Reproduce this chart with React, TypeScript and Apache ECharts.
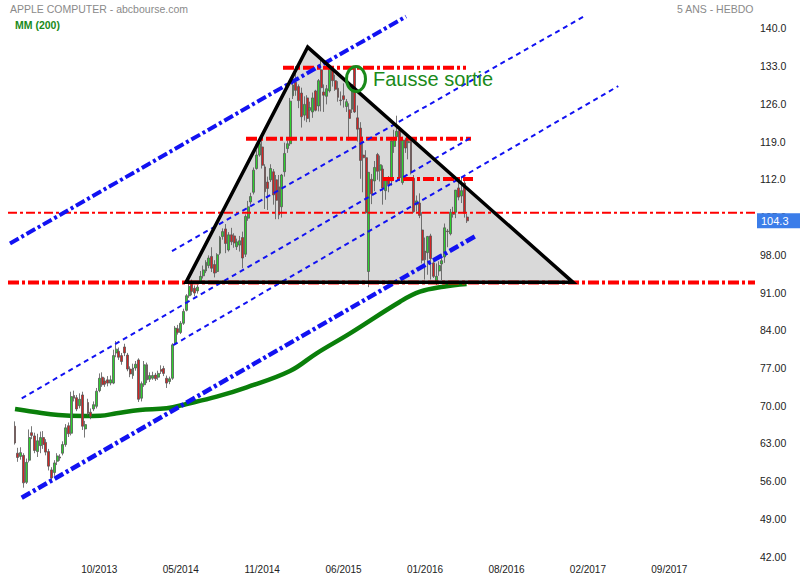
import React, { useEffect, useRef } from 'react';
import * as echarts from 'echarts';

const FONT = '"Liberation Sans", Arial, sans-serif';

// ---- time axis (weekly) ----
const firstCandleUTC = Date.UTC(2013, 2, 25);
const padWeeks = 2;
const totalWeeks = 266;
const xTickLabels = ['10/2013', '05/2014', '11/2014', '06/2015', '01/2016', '08/2016', '02/2017', '09/2017'];
const xTickFirst = 32;
const xTickStep = 29;

// ---- weekly candles: [open, close, low, high] ----
const candles: number[][] = [
  [66.2, 63.1, 62.8, 67.1], [61.2, 60.4, 59.6, 62.2], [60.6, 61.3, 60.0, 62.3], [60.8, 55.7, 54.8, 61.2],
  [55.8, 59.5, 55.5, 60.2], [59.9, 64.1, 59.5, 65.6], [65.0, 64.5, 63.8, 66.2], [64.4, 61.7, 61.2, 65.0],
  [61.5, 63.5, 60.5, 64.8], [62.6, 64.1, 61.2, 65.2], [64.1, 62.8, 62.0, 65.3], [63.2, 61.4, 60.8, 63.8],
  [61.5, 58.8, 58.0, 62.0], [58.1, 56.6, 56.0, 58.6], [57.6, 59.4, 57.0, 59.9], [59.7, 60.7, 59.0, 61.2],
  [60.5, 60.3, 59.8, 61.0], [61.2, 62.8, 60.8, 63.4], [62.8, 65.9, 62.4, 66.6], [66.3, 64.8, 64.2, 66.9],
  [64.9, 71.7, 64.5, 72.6], [71.9, 71.4, 70.8, 72.8], [71.5, 69.4, 69.0, 72.0], [70.0, 71.2, 69.5, 72.3],
  [72.0, 66.2, 65.5, 72.6], [65.7, 66.5, 64.1, 67.2], [70.6, 68.6, 68.2, 71.3], [68.8, 68.0, 67.5, 69.5],
  [69.4, 70.2, 69.0, 70.8], [69.9, 72.7, 69.5, 73.3], [72.8, 75.1, 72.5, 76.0], [75.3, 73.9, 73.5, 76.2],
  [74.6, 74.0, 73.5, 75.2], [74.8, 74.2, 73.6, 75.5], [74.2, 74.8, 73.8, 75.6], [74.2, 79.3, 74.0, 80.4],
  [79.8, 80.5, 79.0, 82.0], [80.1, 79.0, 78.5, 80.8], [79.3, 78.2, 77.6, 79.8], [80.9, 79.8, 79.2, 81.5],
  [79.4, 76.8, 76.4, 79.8], [76.8, 75.9, 75.3, 77.3], [75.6, 77.0, 75.0, 77.8], [77.0, 77.7, 76.5, 78.3],
  [78.5, 71.2, 70.7, 78.8], [71.4, 74.1, 70.8, 74.5], [73.9, 77.6, 73.5, 78.3], [77.6, 74.8, 74.2, 78.0],
  [74.9, 75.6, 74.4, 76.2], [75.1, 75.6, 74.8, 76.3], [75.7, 75.0, 74.6, 76.1], [75.3, 76.0, 74.8, 76.5],
  [76.7, 76.4, 75.9, 77.5], [76.9, 76.0, 75.5, 77.4], [75.1, 74.2, 73.3, 75.6], [74.5, 75.0, 74.0, 75.4],
  [75.1, 81.3, 74.8, 81.6], [81.6, 84.4, 81.3, 84.8], [84.3, 83.6, 83.2, 85.0], [83.6, 85.3, 83.3, 85.7],
  [85.3, 87.5, 85.0, 88.0], [87.7, 90.4, 87.5, 90.7], [90.4, 92.1, 90.0, 92.6], [92.6, 91.2, 90.5, 93.4],
  [91.8, 90.9, 90.3, 92.3], [91.3, 92.0, 90.8, 92.5], [93.0, 94.0, 92.6, 95.0], [94.1, 95.2, 93.6, 96.0],
  [95.0, 96.6, 94.6, 97.0], [96.0, 97.4, 95.5, 97.9], [97.7, 95.5, 94.8, 99.4], [96.2, 94.6, 93.8, 97.0],
  [94.9, 98.0, 94.6, 98.3], [98.3, 101.2, 98.0, 101.5], [101.4, 102.3, 100.8, 102.9], [102.8, 100.1, 98.3, 103.7],
  [98.9, 101.7, 98.6, 102.2], [101.7, 100.4, 99.8, 103.0], [101.5, 100.2, 99.3, 102.0], [99.5, 100.4, 98.9, 101.0],
  [99.8, 100.6, 98.6, 101.5], [101.2, 97.4, 95.5, 102.3], [98.1, 105.1, 97.6, 105.5], [104.8, 106.9, 104.3, 108.0],
  [107.8, 108.8, 107.3, 109.5], [109.6, 113.7, 109.2, 114.2], [114.0, 116.5, 113.8, 117.4], [116.5, 118.6, 116.2, 119.8],
  [118.0, 114.6, 114.0, 119.3], [114.3, 109.7, 106.5, 114.8], [111.5, 110.3, 106.3, 112.5], [111.9, 114.0, 111.5, 114.8],
  [113.4, 109.1, 107.3, 113.9], [111.9, 108.1, 104.6, 112.8], [110.6, 105.4, 104.6, 112.8], [106.9, 112.8, 104.9, 113.0],
  [113.4, 116.8, 112.5, 118.8], [117.7, 118.6, 116.9, 119.2], [118.6, 126.5, 118.2, 127.1], [127.5, 129.5, 126.9, 130.0],
  [130.0, 128.5, 127.5, 133.0], [129.2, 126.6, 125.2, 129.6], [128.0, 123.6, 121.6, 129.0], [123.9, 125.9, 122.9, 127.4],
  [127.1, 123.3, 122.6, 127.6], [124.8, 125.3, 122.6, 126.4], [124.5, 127.1, 123.4, 128.1], [128.4, 124.8, 124.6, 128.6],
  [125.6, 130.3, 124.6, 130.6], [132.3, 129.0, 124.6, 134.5], [128.2, 127.6, 124.5, 129.6], [127.4, 128.8, 125.9, 129.5],
  [128.4, 132.5, 128.1, 132.9], [132.6, 130.3, 129.2, 132.9], [130.3, 128.7, 128.4, 131.4], [128.9, 127.2, 126.4, 130.2],
  [126.7, 126.6, 125.7, 128.3], [127.5, 126.8, 125.3, 129.8], [125.5, 126.4, 124.5, 126.9], [124.9, 123.3, 119.2, 126.1],
  [125.0, 129.6, 124.3, 129.6], [132.9, 124.5, 124.3, 133.0], [123.4, 121.3, 119.0, 125.7], [121.5, 115.5, 112.1, 122.6],
  [116.5, 116.0, 109.6, 119.9], [116.0, 105.8, 105.6, 117.4], [94.9, 113.3, 92.0, 113.3], [112.0, 109.3, 107.4, 113.0],
  [111.7, 114.2, 109.8, 115.4], [116.6, 113.5, 111.9, 116.9], [113.7, 114.7, 111.6, 116.4], [113.9, 110.4, 107.3, 114.6],
  [109.9, 112.1, 108.2, 112.3], [111.8, 111.0, 109.6, 112.6], [111.7, 119.1, 110.8, 119.2], [118.1, 119.5, 116.9, 121.2],
  [119.9, 120.9, 119.5, 123.8], [121.1, 112.3, 112.1, 121.8], [111.4, 119.3, 111.0, 119.9], [119.3, 117.8, 116.9, 119.7],
  [118.8, 119.0, 115.7, 119.9], [119.0, 113.2, 112.9, 119.9], [112.2, 106.0, 105.8, 112.8], [107.3, 108.0, 106.0, 109.0],
  [107.6, 105.3, 104.8, 109.4], [102.6, 97.0, 96.4, 105.9], [98.7, 97.1, 93.4, 101.2], [98.4, 101.4, 94.3, 101.5],
  [101.5, 97.3, 93.4, 101.9], [96.5, 94.0, 93.7, 97.3], [93.1, 94.0, 92.4, 96.4], [95.0, 96.0, 94.1, 96.8],
  [96.3, 96.9, 93.3, 98.2], [97.6, 103.0, 96.5, 103.8], [102.4, 102.3, 99.4, 102.8], [101.9, 105.9, 101.6, 106.5],
  [105.5, 105.7, 104.9, 106.9], [105.9, 110.0, 104.8, 110.0], [110.4, 108.7, 108.1, 112.2], [108.9, 109.9, 107.6, 112.4],
  [111.3, 105.7, 104.9, 112.4], [105.0, 104.3, 103.9, 105.6],
];

// ---- MM (200): week index / price ----
const mmWeek = [0, 6.5, 15.4, 24.3, 30.3, 36.2, 44.5, 54.0, 61.1, 71.8, 82.5, 97.9, 107.4, 119.3, 137.1, 144.2, 152.5, 160.8];
const mmPrice = [69.39, 68.89, 68.28, 68.1, 68.15, 68.6, 69.21, 69.52, 70.32, 71.68, 73.42, 76.44, 79.73, 83.43, 89.3, 91.15, 92.08, 92.58];

// ---- drawings (week index, price) ----
const triangleWeek = [60.88, 104.22, 198.69];
const trianglePrice = [92.89, 136.53, 92.89];

const resistLevels = [132.69, 119.53, 112.05, 105.8, 92.86];
const resistFrom = [95.42, 82.25, 131.03, -2.5, -2.5];
const resistTo = [160.59, 162.37, 163.08, 263.5, 263.5];

const channelUpper = [[-1.79, 100.09], [139.26, 142.2]];
const channelLower = [[2.38, 52.94], [164.4, 101.61]];
const dottedA = [[55.9, 98.7], [202.36, 142.15]];
const dottedB = [[2.38, 71.38], [162.0, 119.6]];
const dottedC = [[56.36, 81.26], [214.82, 129.3]];

const noteText = 'Fausse sortie';
const noteWeek = 121.42;
const noteTextWeek = 127.47;
const notePrice = 130.6;

const weekCats = Array.from({ length: totalWeeks }, (_, j) =>
  new Date(firstCandleUTC + (j - padWeeks) * 7 * 86400000).toISOString().slice(0, 10)
);
const tickPos = (idx: number) => {
  const k = (idx - xTickFirst) / xTickStep;
  return Number.isInteger(k) && k >= 0 && k < xTickLabels.length ? k : -1;
};

const BLUE = '#1212f2';
const RED = '#ff0000';

export default function App() {
  const ref = useRef<HTMLDivElement>(null);
  useEffect(() => {
    document.body.style.margin = '0';
    const chart = echarts.init(ref.current!, null, { renderer: 'svg' });
    const lastClose = candles[candles.length - 1][1];
    const seg = (pts: number[][], color: string, width: number, dash: number[], z = 4) => ({
      type: 'line', xAxisIndex: 1, yAxisIndex: 0, data: pts, symbol: 'none', silent: true, z,
      lineStyle: { color, width, type: dash }, animation: false,
    });
    const candleData = [
      ...Array.from({ length: padWeeks }, () => ['-', '-', '-', '-']),
      ...candles,
    ];
    const option: any = {
      animation: false,
      backgroundColor: '#ffffff',
      textStyle: { fontFamily: FONT },
      title: [
        { text: 'APPLE COMPUTER - abcbourse.com', left: 10, top: 3, padding: 0,
          textStyle: { color: '#8a8a8a', fontSize: 10.5, fontWeight: 'normal', fontFamily: FONT } },
        { text: 'MM (200)', left: 15, top: 19, padding: 0,
          textStyle: { color: '#1a8a1a', fontSize: 10.5, fontWeight: 'bold', fontFamily: FONT } },
        { text: '5 ANS - HEBDO', right: 46, top: 3, padding: 0,
          textStyle: { color: '#8a8a8a', fontSize: 10.5, fontWeight: 'normal', fontFamily: FONT } },
      ],
      grid: { left: 8, right: 45, top: 16.5, bottom: 23.3, containLabel: false, outerBoundsMode: 'none' },
      xAxis: [
        {
          type: 'category', data: weekCats, boundaryGap: true,
          axisLine: { show: false }, axisTick: { show: false }, splitLine: { show: false },
          axisLabel: {
            interval: (idx: number) => tickPos(idx) >= 0,
            formatter: (_v: string, idx: number) => (tickPos(idx) >= 0 ? xTickLabels[tickPos(idx)] : ''),
            color: '#222', fontSize: 10, margin: 8, fontFamily: FONT,
          },
        },
        { type: 'value', min: -2.5, max: 263.5, show: false },
      ],
      yAxis: {
        type: 'value', position: 'right', min: 42, max: 142.2, interval: 7,
        axisLine: { show: false }, axisTick: { show: false }, splitLine: { show: false },
        axisLabel: {
          showMaxLabel: false, margin: 5, color: '#222', fontSize: 10.5, fontFamily: FONT,
          formatter: (v: number) => (v >= 100 ? v.toFixed(1) : v.toFixed(2)),
        },
      },
      series: [
        {
          type: 'custom', xAxisIndex: 1, yAxisIndex: 0, z: 1, silent: true,
          data: [[triangleWeek[0], trianglePrice[0]]],
          renderItem: (_p: any, api: any) => ({
            type: 'polygon',
            shape: { points: triangleWeek.map((w, k) => api.coord([w, trianglePrice[k]])) },
            style: { fill: '#d9d9d9', stroke: 'none' },
          }),
        },
        {
          type: 'line', xAxisIndex: 1, yAxisIndex: 0, z: 2, silent: true, symbol: 'none', smooth: 0.4,
          data: mmWeek.map((w, k) => [w, mmPrice[k]]),
          lineStyle: { color: '#0a7f0a', width: 4.5 },
        },
        {
          type: 'candlestick', xAxisIndex: 0, yAxisIndex: 0, z: 3, barWidth: 2.4,
          data: candleData,
          itemStyle: { color: '#2fd02f', color0: '#d42424', borderColor: '#555', borderColor0: '#555', borderWidth: 0.8 },
          markLine: {
            silent: true, symbol: 'none', animation: false,
            lineStyle: { color: 'rgba(0,0,0,0)', width: 0 },
            label: {
              position: 'end', distance: 2, formatter: () => lastClose.toFixed(1),
              backgroundColor: '#3b7de9', color: '#ffffff', fontSize: 11, fontFamily: FONT,
              padding: [2, 12, 2, 4],
            },
            data: [{ yAxis: lastClose }],
          },
        },
        ...resistLevels.map((lvl, k) =>
          seg([[resistFrom[k], lvl], [resistTo[k], lvl]], RED, k === 3 ? 2 : 4, k === 3 ? [9, 3, 3, 3] : [11, 3, 3, 3])
        ),
        seg(channelUpper, BLUE, 4, [10, 3, 3, 3]),
        seg(channelLower, BLUE, 4.5, [10, 3, 3, 3]),
        seg(dottedA, BLUE, 2, [5, 4]),
        seg(dottedB, BLUE, 2, [5, 4]),
        seg(dottedC, BLUE, 2, [5, 4]),
        {
          type: 'custom', xAxisIndex: 1, yAxisIndex: 0, z: 6, silent: true,
          data: [[triangleWeek[0], trianglePrice[0]]],
          renderItem: (_p: any, api: any) => ({
            type: 'polygon',
            shape: { points: triangleWeek.map((w, k) => api.coord([w, trianglePrice[k]])) },
            style: { fill: 'none', stroke: '#000000', lineWidth: 3.5, lineJoin: 'miter' },
          }),
        },
        {
          type: 'custom', xAxisIndex: 1, yAxisIndex: 0, z: 7, silent: true,
          data: [[noteWeek, notePrice]],
          renderItem: (_p: any, api: any) => {
            const c = api.coord([noteWeek, notePrice]);
            const t = api.coord([noteTextWeek, notePrice]);
            return {
              type: 'group',
              children: [
                { type: 'ellipse', shape: { cx: c[0], cy: c[1], rx: 9.5, ry: 12.5 },
                  style: { fill: 'none', stroke: '#1a8a1a', lineWidth: 3 } },
                { type: 'text', x: t[0], y: t[1],
                  style: { text: noteText, fill: '#1a8a1a', font: `20px ${FONT}`,
                    align: 'left', verticalAlign: 'middle', textAlign: 'left', textVerticalAlign: 'middle' } },
              ],
            };
          },
        },
      ],
    };
    chart.setOption(option);
    return () => chart.dispose();
  }, []);
  return <div ref={ref} style={{ position: 'fixed', left: 0, top: 0, width: 800, height: 580 }} />;
}
